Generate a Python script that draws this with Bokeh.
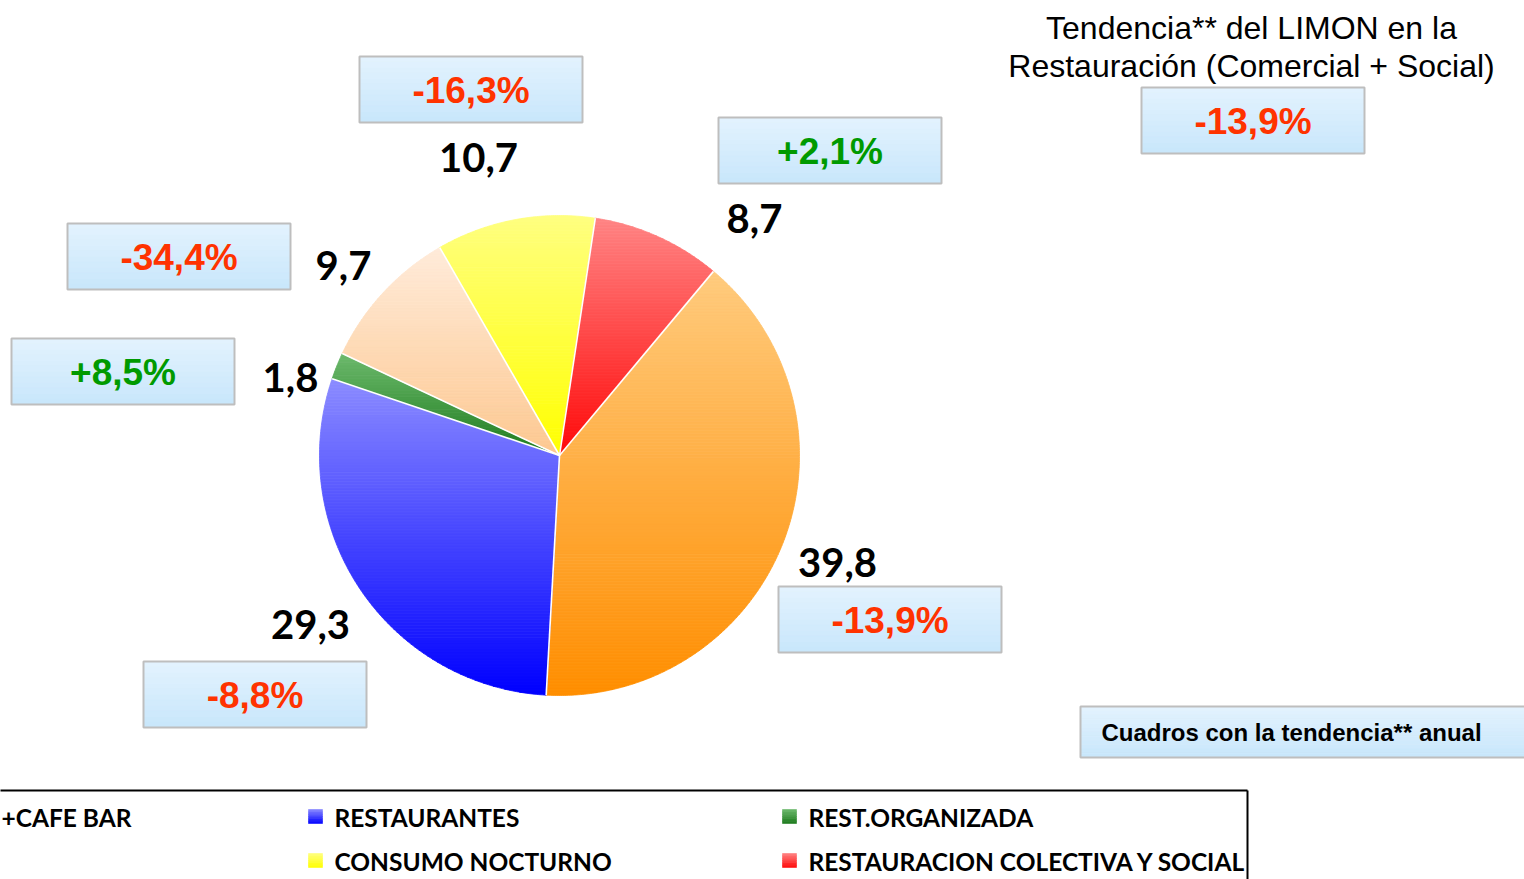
import numpy as np
from bokeh.plotting import figure
from bokeh.models import Range1d
from bokeh.core.properties import value
from bokeh.embed import file_html
from bokeh.resources import INLINE

# ---------------- data ----------------
categories = ["BARES+CAFE BAR", "RESTAURANTES", "REST.ORGANIZADA", "HOTELES",
              "CONSUMO NOCTURNO", "RESTAURACION COLECTIVA Y SOCIAL"]
legend_labels = ["+CAFE BAR", "RESTAURANTES", "REST.ORGANIZADA", "",
                 "CONSUMO NOCTURNO", "RESTAURACION COLECTIVA Y SOCIAL"]
shares = [39.8, 29.3, 1.8, 9.7, 10.7, 8.7]
share_labels = ["39,8", "29,3", "1,8", "9,7", "10,7", "8,7"]
trends = [-13.9, -8.8, 8.5, -34.4, -16.3, 2.1]
trend_labels = ["-13,9%", "-8,8%", "+8,5%", "-34,4%", "-16,3%", "+2,1%"]
total_trend_label = "-13,9%"
title_lines = ["Tendencia** del LIMON en la", "Restauración (Comercial + Social)"]
note_text = "Cuadros con la tendencia** anual"

# ---------------- style / layout ----------------
grad_top = ["#FFCB7E", "#8C8CFF", "#6DBA6D", "#FFEBDA", "#FFFF80", "#FF8484"]
grad_bot = ["#FF8E00", "#0000FF", "#1C7A1C", "#FDC890", "#FFFF00", "#FF0A0A"]
CX, CY, R = 559.0, 455.0, 240.0
START_DEG = 50.1
label_pos = [(837, 562), (310, 624), (290, 377), (343, 265), (478, 157), (754, 218)]
box_pos = [(778, 586), (143, 661), (11, 338), (67, 223), (359, 56), (718, 117)]
BOX_W, BOX_H = 223, 66
RED, GREEN = "#FF3300", "#009A00"
W, H = 1524, 879

p = figure(width=W, height=H, x_range=Range1d(0, W), y_range=Range1d(H, 0),
           output_backend="svg", toolbar_location=None, min_border=0)
p.axis.visible = False
p.grid.visible = False
p.outline_line_color = None
p.background_fill_color = "white"
p.border_fill_color = "white"


def hex2rgb(h):
    h = h.lstrip("#")
    return np.array([int(h[i:i + 2], 16) for i in (0, 2, 4)], dtype=float)


def mix(c0, c1, t):
    a, b = hex2rgb(c0), hex2rgb(c1)
    c = a + (b - a) * t
    return "#%02x%02x%02x" % tuple(int(round(v)) for v in c)


def clip_half(poly, yv, keep_above):
    out = []
    n = len(poly)
    for i in range(n):
        P, Q = poly[i], poly[(i + 1) % n]
        inP = P[1] >= yv if keep_above else P[1] <= yv
        inQ = Q[1] >= yv if keep_above else Q[1] <= yv
        if inP:
            out.append(P)
        if inP != inQ:
            t = (yv - P[1]) / (Q[1] - P[1])
            out.append((P[0] + t * (Q[0] - P[0]), yv))
    return out


def gradient_box(x0, y0, w, h, ctop, cbot, n=12, border="#BEBEBE"):
    edges = np.linspace(y0, y0 + h, n + 1)
    cols = [mix(ctop, cbot, (i + 0.5) / n) for i in range(n)]
    p.quad(left=[x0] * n, right=[x0 + w] * n, top=list(edges[:-1]), bottom=list(edges[1:]),
           fill_color=cols, line_color=cols, line_width=0.6)
    if border:
        p.quad(left=[x0], right=[x0 + w], top=[y0], bottom=[y0 + h],
               fill_color=None, line_color=border, line_width=2)


# ---------------- pie (vertical gradient per slice) ----------------
fr = np.array(shares) / np.sum(shares)
cum = np.concatenate([[0], np.cumsum(fr)])
xs, ys, cols = [], [], []
bounds = []
for i in range(len(shares)):
    a0 = np.radians(START_DEG - cum[i] * 360)
    a1 = np.radians(START_DEG - cum[i + 1] * 360)
    th = np.linspace(a0, a1, max(8, int(abs(a1 - a0) * 120)))
    poly = [(CX, CY)] + [(CX + R * np.cos(t), CY - R * np.sin(t)) for t in th]
    bounds.append(a0)
    ymin = min(q[1] for q in poly)
    ymax = max(q[1] for q in poly)
    nb = max(6, int((ymax - ymin) / 3))
    edges = np.linspace(ymin, ymax, nb + 1)
    for k in range(nb):
        piece = clip_half(poly, edges[k], True)
        piece = clip_half(piece, edges[k + 1], False) if piece else []
        if len(piece) >= 3:
            c = mix(grad_top[i], grad_bot[i], (k + 0.5) / nb)
            xs.append([q[0] for q in piece])
            ys.append([q[1] for q in piece])
            cols.append(c)
p.patches(xs=xs, ys=ys, fill_color=cols, line_color=cols, line_width=0.8)
p.segment(x0=[CX] * len(bounds), y0=[CY] * len(bounds),
          x1=[CX + R * np.cos(a) for a in bounds], y1=[CY - R * np.sin(a) for a in bounds],
          line_color="white", line_width=1.6)

# ---------------- value labels ----------------
p.text(x=[q[0] for q in label_pos], y=[q[1] for q in label_pos], text=share_labels,
       text_font=value("Lato"), text_font_style="bold", text_font_size="40px",
       text_color="black", text_align="center", text_baseline="middle")

# ---------------- trend boxes ----------------
BOX_TOP, BOX_BOT = "#E3F3FE", "#C8E6FB"
for (bx, by), lab, tv in zip(box_pos, trend_labels, trends):
    gradient_box(bx, by, BOX_W, BOX_H, BOX_TOP, BOX_BOT)
p.text(x=[b[0] + BOX_W / 2 for b in box_pos], y=[b[1] + BOX_H / 2 + 1 for b in box_pos],
       text=trend_labels, text_color=[RED if t < 0 else GREEN for t in trends],
       text_font=value("Liberation Sans"), text_font_style="bold", text_font_size="37px",
       text_align="center", text_baseline="middle")

# ---------------- title + total ----------------
p.text(x=[1251, 1251], y=[27, 65], text=title_lines, text_font=value("Liberation Sans"),
       text_font_size="32px", text_color="black", text_align="center", text_baseline="middle")
gradient_box(1141, 87, BOX_W, BOX_H, BOX_TOP, BOX_BOT)
p.text(x=[1141 + BOX_W / 2], y=[87 + BOX_H / 2 + 1], text=[total_trend_label],
       text_color=RED, text_font=value("Liberation Sans"), text_font_style="bold",
       text_font_size="37px", text_align="center", text_baseline="middle")

# ---------------- note box ----------------
gradient_box(1080, 706, 460, 51, BOX_TOP, BOX_BOT)
p.text(x=[1101], y=[732], text=[note_text], text_font=value("Liberation Sans"),
       text_font_style="bold", text_font_size="24px", text_color="black",
       text_align="left", text_baseline="middle")

# ---------------- legend ----------------
p.line(x=[-10, 1247], y=[790, 790], line_color="black", line_width=2)
p.line(x=[1247, 1247], y=[790, 890], line_color="black", line_width=2)
col_x = [-166, 308, 782]
row_y = [816, 860]
lx, ly, lt = [], [], []
for i, lab in enumerate(legend_labels):
    cx = col_x[i % 3]
    cy = row_y[i // 3]
    if i % 3 != 0:
        gradient_box(cx, cy - 7, 14, 14, grad_top[i], grad_bot[i], n=6, border=None)
    if lab:
        lx.append(max(cx + 26, 1))
        ly.append(cy + 1)
        lt.append(lab)
p.text(x=lx, y=ly, text=lt, text_font=value("Lato"), text_font_style="bold",
       text_font_size="24.5px", text_color="black", text_align="left", text_baseline="middle")

open("out.html", "w").write(file_html(p, INLINE))
